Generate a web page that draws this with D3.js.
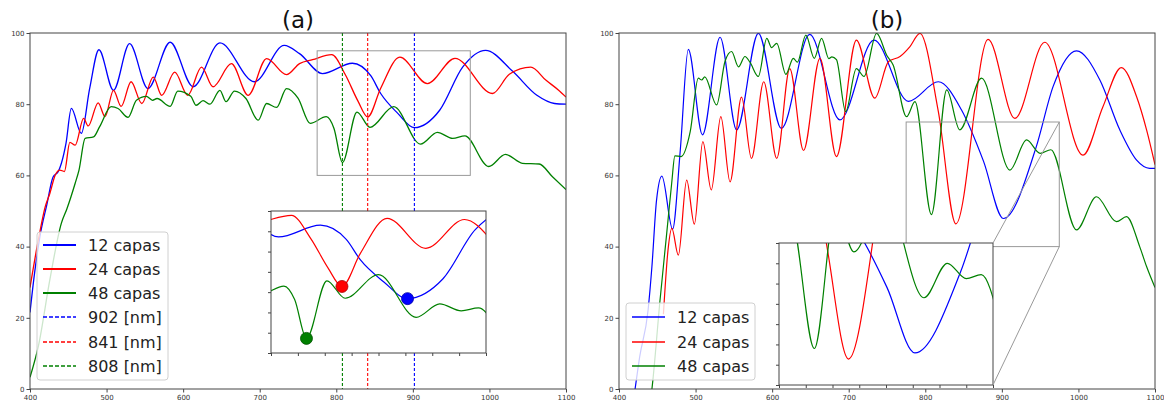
<!DOCTYPE html>
<html><head><meta charset="utf-8">
<script src="https://cdn.jsdelivr.net/npm/d3@7"></script>
<style>body{margin:0;background:#fff;} text{font-family:"DejaVu Sans",sans-serif;}</style>
</head><body><svg id="c" width="1164" height="409"></svg>
<script>
// ---------- data ----------
const xTicks = [400,500,600,700,800,900,1000,1100];
const yTicks = [0,20,40,60,80,100];
const insetXTicks = [775,800,825,850,875,900,925,950,975];
const insetYTicksA = [60,65,70,75,80,85,90,95];
const insetYTicksB = [40,45,50,55,60,65,70,75];
const seriesNames = ["12 capas","24 capas","48 capas"];
const seriesColors = ["#0000ff","#ff0000","#008000"];
const markWl = [902,841,808];
const markLabels = ["902 [nm]","841 [nm]","808 [nm]"];
const panelTitles = ["(a)","(b)"];
const zoomX = [775,975];
const zoomYA = [60,95];
const zoomYB = [40,75];

// panel (a) spectra [wavelength nm, value]
const a12 = [[400,21.5],[406,32.6],[413,42.9],[422,51.8],[430,59.5],[437,61.1],[441,63.4],[447,69],[454,78.8],[467,71.8],[478,84.5],[490,95.3],[509,83.9],[530,97],[554,84.4],[583,97.4],[613,84.9],[648,97.2],[693,86.3],[732,96.5],[752,94.2],[782,88.6],[821,91.5],[845,88],[858,83],[880,77.5],[902,73.4],[935,78.3],[965,90.4],[995,95.1],[1030,89.3],[1062,82.5],[1085,80.2],[1100,80]];
const a24 = [[400,28.5],[411,42],[420,51.3],[426,55],[433,60.1],[439,61.5],[445,61.1],[452,69.3],[459,68.5],[470,76],[476,73.9],[489,80.4],[498,76.5],[509,83.9],[519,79.4],[532,86.3],[546,80.2],[561,87.6],[572,82.5],[589,89],[606,82.5],[624,90.4],[639,84.9],[663,91.4],[685,82.5],[709,92.8],[735,88.3],[752,91.4],[769,92.5],[794,93.9],[812,88.2],[828,81],[841,76.4],[858,84.5],[883,93.2],[919,85.8],[955,92.9],[1004,83],[1026,88.4],[1054,90.4],[1074,86.7],[1090,84],[1100,82]];
const a48 = [[400,3.3],[411,12.1],[426,30.8],[441,46.6],[448,50.5],[459,57.8],[464,61.5],[472,70.4],[483,70.8],[491,73.7],[506,79.3],[515,78.8],[528,76.3],[539,81.1],[552,82.2],[560,81.1],[566,81.6],[583,79.4],[593,83.7],[610,82.2],[617,79.7],[626,81],[635,80],[648,83.9],[656,80.7],[667,83.7],[682,81.6],[698,75.5],[709,80.2],[722,79.1],[735,84.4],[750,81.7],[766,74.6],[787,76.5],[797,73.2],[808,63.6],[827,77.8],[844,73.5],[875,79.3],[910,68.8],[932,72.1],[952,70.4],[968,71.1],[999,62.5],[1021,65.9],[1043,63.4],[1065,63.2],[1082,59.7],[1100,56]];

// panel (b) spectra
const b12 = [[417,-6],[421,0],[427,9],[438,22.2],[443,34.4],[449,53],[456,59.8],[470,44.9],[480,67],[490.5,95.4],[509,71.4],[532,98.8],[553.6,72.8],[582,99.9],[612,73.2],[649,99.6],[688.5,75.6],[733,98],[778,80.8],[817,86.3],[847,78.5],[876,64],[902,47.9],[945,68.1],[967,85],[997.5,95],[1028,86.8],[1054,72.8],[1076,64.3],[1093,62],[1100,62]];
const b24 = [[458,21],[464,39],[469,45.1],[477.5,37.6],[488.4,58.7],[498.4,46.3],[509.5,69.5],[520.5,55.9],[533,76.5],[545,58.2],[560,82],[573,64.8],[589,86.3],[606,64.8],[623,90],[641,67],[662.4,92.9],[684,65.3],[710,98],[734,81.7],[752,92],[767,93.4],[780,96.2],[793,99.9],[817,78],[840,46.4],[882,98.2],[917,76],[956,97.4],[1006,65.7],[1032,79.3],[1056,90.3],[1076,82.1],[1089,72.8],[1100,63]];
const b48 = [[440,-5],[443,0],[453.6,25],[462.3,43.7],[468.8,57.8],[473,65.5],[481,65.3],[493,72.3],[503.6,87.3],[508,86.8],[512,87.7],[527.5,79.8],[538.4,92],[547,94.8],[556,90.5],[564.5,93.4],[571,91.8],[582,87.8],[593,98.5],[599.3,95.9],[606,97.1],[618,88.4],[627.6,92.9],[633,91.8],[644,99.4],[655,92.9],[664.6,98.5],[674,92.8],[678,93.3],[684,92.5],[696,77.9],[710,90],[720,87.8],[736.4,99.9],[750,93.6],[758,91],[775.6,76.5],[786.5,80.7],[808,49],[828,84],[845,72.8],[873.5,87.3],[910.5,61.5],[932.3,70],[950,66.2],[964,67.2],[997.5,44.7],[1023.6,54],[1049.7,47],[1062.8,48.4],[1080,40],[1089,34.4],[1100,28.5]];

// ---------- drawing ----------
const svg = d3.select("#c");
const defs = svg.append("defs");
const FRAME = "#444";

function clip(id, x0, y0, x1, y1){
  defs.append("clipPath").attr("id", id).append("rect")
    .attr("x", x0).attr("y", y0).attr("width", x1-x0).attr("height", y1-y0);
  return "url(#"+id+")";
}

function drawAxes(g, x, y, x0, x1, y0, y1){
  const ax = g.append("g").attr("transform", `translate(0,${y1})`)
    .call(d3.axisBottom(x).tickValues(xTicks).tickSize(3.5).tickPadding(3).tickFormat(d3.format("d")));
  const ay = g.append("g").attr("transform", `translate(${x0},0)`)
    .call(d3.axisLeft(y).tickValues(yTicks).tickSize(3.5).tickPadding(2).tickFormat(d3.format("d")));
  [ax, ay].forEach(a => {
    a.select(".domain").remove();
    a.selectAll("line").attr("stroke", FRAME);
    a.selectAll("text").attr("font-size", 7).attr("fill", "#333").attr("font-family", "DejaVu Sans");
  });
  g.append("rect").attr("x", x0).attr("y", y0).attr("width", x1-x0).attr("height", y1-y0)
    .attr("fill", "none").attr("stroke", FRAME).attr("stroke-width", 1);
}

function drawLines(g, x, y, series, clipUrl, w){
  const line = d3.line().x(d => x(d[0])).y(d => y(d[1])).curve(d3.curveMonotoneX);
  const lg = g.append("g").attr("clip-path", clipUrl);
  series.forEach((s, i) => {
    lg.append("path").attr("d", line(s)).attr("fill", "none")
      .attr("stroke", seriesColors[i]).attr("stroke-width", w).attr("stroke-linejoin", "round");
  });
}

function drawInset(g, box, yDom, yTicksI, series, id){
  const xi = d3.scaleLinear().domain(zoomX).range([box.x0, box.x1]);
  const yi = d3.scaleLinear().domain(yDom).range([box.y1, box.y0]);
  g.append("rect").attr("x", box.x0).attr("y", box.y0).attr("width", box.x1-box.x0).attr("height", box.y1-box.y0).attr("fill", "#fff");
  drawLines(g, xi, yi, series, clip(id, box.x0, box.y0, box.x1, box.y1), 1.2);
  const ax = g.append("g").attr("transform", `translate(0,${box.y1})`)
    .call(d3.axisBottom(xi).tickValues(insetXTicks).tickSize(3).tickFormat(""));
  const ay = g.append("g").attr("transform", `translate(${box.x0},0)`)
    .call(d3.axisLeft(yi).tickValues(yTicksI).tickSize(3).tickFormat(""));
  [ax, ay].forEach(a => { a.select(".domain").remove(); a.selectAll("line").attr("stroke", FRAME); });
  g.append("rect").attr("x", box.x0).attr("y", box.y0).attr("width", box.x1-box.x0).attr("height", box.y1-box.y0)
    .attr("fill", "none").attr("stroke", FRAME).attr("stroke-width", 1);
  return {xi, yi};
}

function legend(g, x0, y0, w, h, items, rowY, lineX0, lineX1, textX){
  g.append("rect").attr("x", x0).attr("y", y0).attr("width", w).attr("height", h).attr("rx", 3)
    .attr("fill", "#fff").attr("fill-opacity", 0.8).attr("stroke", "#d0d0d0").attr("stroke-width", 1);
  items.forEach((it, i) => {
    const yy = rowY[i];
    g.append("line").attr("x1", lineX0).attr("x2", lineX1).attr("y1", yy).attr("y2", yy)
      .attr("stroke", it.color).attr("stroke-width", it.width).attr("stroke-dasharray", it.dash || null);
    g.append("text").attr("x", textX).attr("y", yy).attr("dy", "0.36em").attr("font-size", 16)
      .attr("fill", "#222").text(it.label);
  });
}

// ===== Panel (a) =====
{
  const L = 30, R = 566, T = 33, B = 389;
  const x = d3.scaleLinear().domain([400,1100]).range([L, R]);
  const y = d3.scaleLinear().domain([0,100]).range([B, T]);
  const g = svg.append("g");
  const series = [a12, a24, a48];
  drawLines(g, x, y, series, clip("clipA", L, T, R, B), 1.3);
  // vertical dashed markers
  markWl.forEach((wl, i) => {
    g.append("line").attr("x1", x(wl)).attr("x2", x(wl)).attr("y1", T).attr("y2", B)
      .attr("stroke", seriesColors[i]).attr("stroke-width", 1.1).attr("stroke-dasharray", "3,2");
  });
  // zoom rectangle
  g.append("rect").attr("x", x(zoomX[0])).attr("y", y(zoomYA[1]))
    .attr("width", x(zoomX[1]) - x(zoomX[0])).attr("height", y(zoomYA[0]) - y(zoomYA[1]))
    .attr("fill", "none").attr("stroke", "#999").attr("stroke-width", 1);
  drawAxes(g, x, y, L, R, T, B);
  // inset
  const box = {x0: 271, x1: 486, y0: 211, y1: 353};
  const {xi, yi} = drawInset(g, box, zoomYA, insetYTicksA, series, "clipAI");
  markWl.forEach((wl, i) => {
    const pt = series[i].find(d => d[0] === wl);
    g.append("circle").attr("cx", xi(pt[0])).attr("cy", yi(pt[1])).attr("r", 6)
      .attr("fill", seriesColors[i]).attr("stroke", d3.color(seriesColors[i]).darker(1.2)).attr("stroke-width", 0.8);
  });
  // legend
  const items = seriesNames.map((n, i) => ({label: n, color: seriesColors[i], width: 2}))
    .concat(markLabels.map((n, i) => ({label: n, color: seriesColors[i], width: 1.5, dash: "4,2"})));
  legend(g, 37, 232, 131, 148, items, [245,269,293,317,342,366], 43, 76, 88);
  g.append("text").attr("x", (L+R)/2).attr("y", 28).attr("text-anchor", "middle")
    .attr("font-size", 23).attr("fill", "#111").text(panelTitles[0]);
}

// ===== Panel (b) =====
{
  const L = 619, R = 1155, T = 33, B = 389;
  const x = d3.scaleLinear().domain([400,1100]).range([L, R]);
  const y = d3.scaleLinear().domain([0,100]).range([B, T]);
  const g = svg.append("g");
  const series = [b12, b24, b48];
  drawLines(g, x, y, series, clip("clipB", L, T, R, B), 1.2);
  const rx0 = x(zoomX[0]), rx1 = x(zoomX[1]), ry0 = y(zoomYB[1]), ry1 = y(zoomYB[0]);
  g.append("rect").attr("x", rx0).attr("y", ry0).attr("width", rx1-rx0).attr("height", ry1-ry0)
    .attr("fill", "none").attr("stroke", "#999").attr("stroke-width", 1);
  drawAxes(g, x, y, L, R, T, B);
  const box = {x0: 779, x1: 993, y0: 243, y1: 385};
  drawInset(g, box, zoomYB, insetYTicksB, series, "clipBI");
  // connector lines
  g.append("line").attr("x1", box.x1).attr("y1", box.y0).attr("x2", rx1).attr("y2", ry0)
    .attr("stroke", "#999").attr("stroke-width", 1);
  g.append("line").attr("x1", box.x1).attr("y1", box.y1).attr("x2", rx1).attr("y2", ry1)
    .attr("stroke", "#999").attr("stroke-width", 1);
  const items = seriesNames.map((n, i) => ({label: n, color: seriesColors[i], width: 1.5}));
  legend(g, 626, 303, 129, 77, items, [317,342,366], 632, 665, 677);
  g.append("text").attr("x", (L+R)/2).attr("y", 28).attr("text-anchor", "middle")
    .attr("font-size", 23).attr("fill", "#111").text(panelTitles[1]);
}
</script></body></html>
